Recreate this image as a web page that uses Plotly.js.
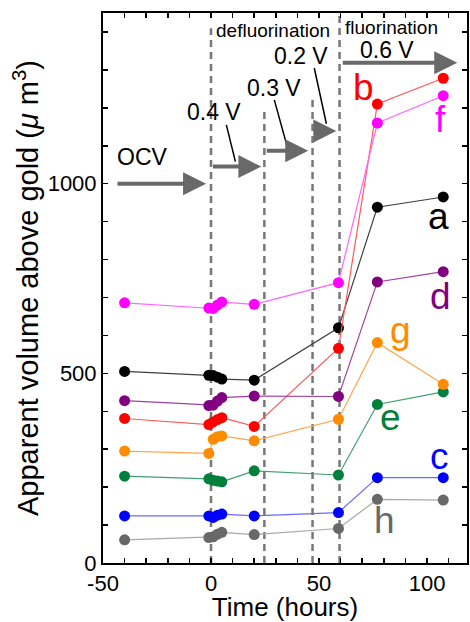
<!DOCTYPE html>
<html>
<head>
<meta charset="utf-8">
<script src="https://cdn.plot.ly/plotly-3.0.1.min.js"></script>
<style>html,body{margin:0;padding:0;background:#fff}</style>
</head>
<body>
<div id="chart" style="width:470px;height:622px"></div>
<script>
// Time (hours)
const time = [-40, -1, 1, 3, 5, 20, 59, 77, 107.5];
// Apparent volume above gold (µm^3)
const seriesA = [505, 495, 494, 490, 485, 482, 620, 938, 965];
const seriesB = [381, 365, 372, 378, 383, 360, 566, 1210, 1278];
const seriesC = [124, 124, 120, 126, 129, 124, 133, 225, 225];
const seriesD = [428, 415, 416, 427, 436, 440, 439, 741, 768];
const seriesE = [229, 222, 218, 216, 214, 243, 232, 418, 451];
const seriesF = [686, 672, 671, 680, 688, 682, 739, 1160, 1232];
const seriesG = [295, 289, 326, 333, 335, 322, 379, 581, 471];
const seriesH = [61, 67, 69, 76, 81, 75, 91, 168, 166];
const seriesNames = ['a', 'b', 'c', 'd', 'e', 'f', 'g', 'h'];
// Axis tick labels
const xTickVals = [-50, 0, 50, 100];
const xTickText = ['-50', '0', '50', '100'];
const yTickVals = [0, 500, 1000];
const yTickText = ['0', '500', '1000'];
// Step boundaries (hours)
const stepTimes = [0, 24.7, 47, 59.5];
const stepTops = [1410, 1195, 1234, 1445];

const all = [seriesA, seriesB, seriesC, seriesD, seriesE, seriesF, seriesG, seriesH];
const markerColors = ['#000000', '#ff0000', '#0000ff', '#800080', '#00803c', '#ff00ff', '#ff8c00', '#686868'];
const lineColors = ['#404040', '#ff5a5a', '#6a6aff', '#a040a0', '#40a070', '#ff66ff', '#ffa64d', '#a8a8a8'];

const font = 'Arial, "Liberation Sans", sans-serif';

const traces = all.map((vals, i) => ({
  x: time, y: vals, type: 'scatter', mode: 'lines+markers', name: seriesNames[i],
  line: {color: lineColors[i], width: 1.2},
  marker: {color: markerColors[i], size: 11},
  cliponaxis: false
}));

const shapes = stepTimes.map((t, i) => ({
  type: 'line', xref: 'x', yref: 'y', x0: t, x1: t, y0: 0, y1: stepTops[i],
  line: {color: '#777777', width: 2.5, dash: '7px,5px'}, layer: 'below'
}));
// pointer lines from voltage labels to arrows
const pointers = [[7.1, 1155, 11.3, 1058], [29.3, 1221, 35.3, 1097], [47.8, 1305, 53.4, 1158]];
pointers.forEach(p => shapes.push({type: 'line', xref: 'x', yref: 'y', x0: p[0], y0: p[1], x1: p[2], y1: p[3],
  line: {color: '#000', width: 1.5}}));

const arrowColor = '#696969';
const arrows = [[-44, -2.3, 1000], [0.2, 23.3, 1045], [25.1, 45, 1087], [46.9, 58, 1139], [60.3, 114, 1319]];
const annotations = arrows.map(a => ({
  x: a[1], y: a[2], ax: a[0], ay: a[2], xref: 'x', yref: 'y', axref: 'x', ayref: 'y',
  text: '', showarrow: true, arrowhead: 2, arrowsize: 1.15, arrowwidth: 4, arrowcolor: arrowColor
}));

const texts = [
  ['defluorination', 28.9, 1405, 19, '#000'],
  ['fluorination', 83.5, 1411, 19, '#000'],
  ['0.6 V', 81.6, 1353, 23, '#000'],
  ['0.2 V', 41.8, 1337, 23, '#000'],
  ['0.3 V', 29.3, 1253, 23, '#000'],
  ['0.4 V', 1.5, 1189, 23, '#000'],
  ['OCV', -31.8, 1071, 23, '#000'],
  ['b', 70.5, 1253, 37, markerColors[1]],
  ['f', 106.1, 1168, 37, markerColors[5]],
  ['a', 105.2, 914, 37, markerColors[0]],
  ['d', 106.1, 703, 37, markerColors[3]],
  ['g', 87.6, 614, 37, markerColors[6]],
  ['e', 83, 384, 37, markerColors[4]],
  ['c', 105.7, 281, 37, markerColors[2]],
  ['h', 80.2, 111, 37, markerColors[7]]
];
texts.forEach(t => annotations.push({
  x: t[1], y: t[2], xref: 'x', yref: 'y', text: t[0], showarrow: false,
  font: {family: font, size: t[3], color: t[4]}, xanchor: 'center', yanchor: 'middle'
}));

const axisCommon = {
  showline: true, linewidth: 2, linecolor: '#000', mirror: 'allticks',
  ticks: 'inside', ticklen: 5, tickwidth: 1.5, tickcolor: '#000',
  showgrid: false, zeroline: false,
  tickfont: {family: font, size: 22, color: '#000'}
};

const layout = {
  width: 470, height: 622,
  margin: {l: 103, r: 3, t: 13, b: 59},
  paper_bgcolor: '#fff', plot_bgcolor: '#fff',
  showlegend: false,
  font: {family: font, color: '#000'},
  xaxis: Object.assign({}, axisCommon, {
    range: [-50, 118.5], tickmode: 'array', tickvals: xTickVals, ticktext: xTickText,
    minor: {tickmode: 'linear', tick0: 0, dtick: 10, ticks: 'inside', ticklen: 5, tickwidth: 1.5, tickcolor: '#000', showgrid: false},
    title: {text: 'Time (hours)', font: {family: font, size: 26, color: '#000'}, standoff: 2}
  }),
  yaxis: Object.assign({}, axisCommon, {
    range: [0, 1450], tickmode: 'array', tickvals: yTickVals, ticktext: yTickText,
    minor: {tickmode: 'linear', tick0: 0, dtick: 100, ticks: 'inside', ticklen: 5, tickwidth: 1.5, tickcolor: '#000', showgrid: false},
    title: {text: 'Apparent volume above gold (<i>μ</i> m<sup>3</sup>)', font: {family: font, size: 29, color: '#000'}, standoff: 0}
  }),
  shapes: shapes,
  annotations: annotations
};

Plotly.newPlot('chart', traces, layout, {displayModeBar: false, staticPlot: true});
</script>
</body>
</html>
